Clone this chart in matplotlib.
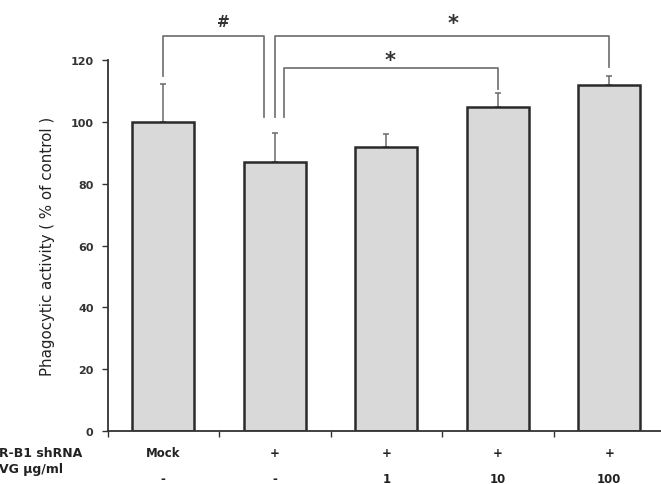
import numpy as np
import matplotlib.pyplot as plt

groups = ["Mock", "+", "+", "+", "+"]
doses = ["-", "-", "1", "10", "100"]
means = [100, 87, 92, 104.8, 112]
errs = [12.3, 9.4, 4.0, 4.6, 2.9]

fig = plt.figure(figsize=(6.61, 4.85), dpi=100)
ax = fig.add_axes([107.5 / 661, 53 / 485, 557.5 / 661, 432 / 485])

x = np.arange(len(means))
ax.bar(x, means, width=0.556, color="#d9d9d9", edgecolor="#2a2a2a", linewidth=1.8, zorder=2)
ax.errorbar(x, means, yerr=[np.zeros(len(errs)), errs], fmt="none", ecolor="#6a6a6a",
            elinewidth=1.1, capsize=2, capthick=1.1, zorder=1)

ax.set_xlim(-0.5, 4.5)
ax.set_ylim(0, 139.8)
ax.set_yticks(np.arange(0, 121, 20))
ax.spines["left"].set_bounds(0, 120)
for s in ["top", "right"]:
    ax.spines[s].set_visible(False)
for s in ["left", "bottom"]:
    ax.spines[s].set_color("#333333")
    ax.spines[s].set_linewidth(1.3)
ax.tick_params(axis="y", direction="out", length=4, width=1, labelsize=8, pad=6, colors="#333333")
for lab in ax.get_yticklabels():
    lab.set_fontweight("bold")
ax.set_xticks(np.arange(-0.5, 5, 1))
ax.set_xticklabels([])
ax.tick_params(axis="x", direction="out", length=4, width=1, colors="#333333")
ax.set_ylabel("Phagocytic activity ( % of control )", fontsize=10.8, color="#222222")
ax.yaxis.set_label_coords(-0.095, 60 / 139.8)

# significance brackets
lc = "#777777"
def bracket(x0, x1, ytop, y0, y1, label, xlab, ylab, size):
    ax.plot([x0, x0, x1, x1], [y0, ytop, ytop, y1], color=lc, lw=1.3, clip_on=False)
    ax.text(xlab, ylab, label, ha="center", va="center", fontsize=size, fontweight="bold",
            color="#333333", clip_on=False)

bracket(0, 0.9, 127.8, 114.9, 101.6, "#", 0.54, 132.4, 11)
bracket(1.0, 4.0, 127.8, 101.6, 117.8, "*", 2.6, 132.0, 15)
bracket(1.08, 3.0, 117.5, 101.6, 110.7, "*", 2.03, 120.0, 15)

# table labels under x axis
for xi, g, d in zip(x, groups, doses):
    ax.annotate(g, (xi, 0), xytext=(0, -15.8), textcoords="offset points", ha="center", va="center",
                fontsize=8.5, fontweight="bold", color="#222222", annotation_clip=False)
    ax.annotate(d, (xi, 0), xytext=(0, -34.5), textcoords="offset points", ha="center", va="center",
                fontsize=8.5, fontweight="bold", color="#222222", annotation_clip=False)
fig.text(82 / 661, 1 - 454 / 485, "R-B1 shRNA", ha="right", va="center", fontsize=9,
         fontweight="bold", color="#222222")
fig.text(63 / 661, 1 - 470 / 485, "VG µg/ml", ha="right", va="center", fontsize=9,
         fontweight="bold", color="#222222")

fig.savefig("out.png", dpi=100)
